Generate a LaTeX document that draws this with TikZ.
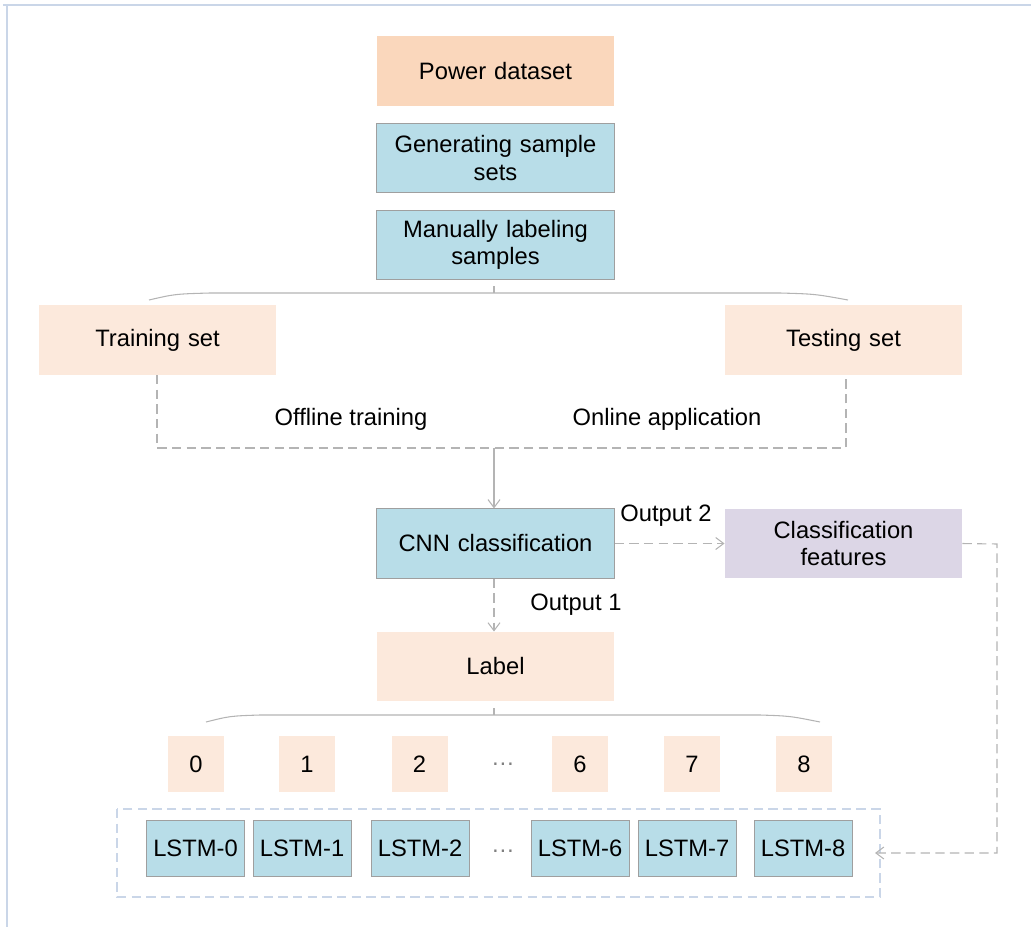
\documentclass[tikz,border=0pt]{standalone}
\usepackage{fontspec}
\setmainfont{Liberation Sans}
\usetikzlibrary{arrows.meta, positioning}

\definecolor{peachdark}{HTML}{FAD7BC}
\definecolor{peachlight}{HTML}{FCE9DC}
\definecolor{boxblue}{HTML}{B8DDE8}
\definecolor{lavender}{HTML}{DCD6E6}
\definecolor{linegray}{HTML}{B4B4B4}
\definecolor{framegray}{HTML}{CAD6E8}

\begin{document}
\begin{tikzpicture}[x=0.75pt, y=-0.75pt,
    font=\fontsize{17.8}{20.5}\selectfont,
    bigbox/.style={minimum width=178pt, minimum height=52pt, inner sep=0pt, align=center, text width=170pt},
    bluebox/.style={bigbox, fill=boxblue, draw=gray!75, line width=0.6pt},
    numbox/.style={fill=peachlight, minimum width=42pt, minimum height=42pt, inner sep=0pt},
    lstmbox/.style={fill=boxblue, draw=gray!75, line width=0.6pt, minimum width=73.5pt, minimum height=42pt, inner sep=0pt},
    conn/.style={linegray, line width=0.8pt},
    dashconn/.style={conn, dash pattern=on 7pt off 4pt},
    tip/.style={-{Straight Barb[length=6pt, width=9pt]}}]

    % Fix the size of the picture
    \useasboundingbox (0,0) rectangle (1031,927);
    \draw[framegray, line width=1pt] (3,5) -- (1031,5);
    \draw[framegray, line width=1pt] (7,5) -- (7,927);

    % Top column of boxes
    \node[bigbox, fill=peachdark] (power) at (495.5,71) {Power dataset};
    \node[bluebox] (generate) at (495.5,158) {Generating sample\\sets};
    \node[bluebox] (manual) at (495.5,245) {Manually labeling\\samples};

    % Split into training and testing
    \node[bigbox, fill=peachlight] (train) at (157.5,340) {Training set};
    \node[bigbox, fill=peachlight] (test) at (843.5,340) {Testing set};
    \draw[conn] (494,286) -- (494,293);
    \draw[conn] (149,300) .. controls (175,294) .. (210,293) -- (780,293) .. controls (815,294) .. (848,300);

    % Dashed loop and labels
    \coordinate (trainfoot) at (157,448);
    \coordinate (testfoot) at (846,448);
    \coordinate (merge) at (494,448);
    \draw[dashconn] (157,375) -- (trainfoot) -- (testfoot) -- (846,375);
    \node (offline) at (351,419) {Offline training};
    \node (online) at (667,419) {Online application};

    % CNN and its outputs
    \node[bluebox] (cnn) at (495.5,543.5) {CNN classification};
    \node[bigbox, fill=lavender] (features) at (843.5,543.5) {Classification\\features};
    \draw[conn, tip] (merge) -- (cnn.north -| merge);
    \draw[dashconn, tip] (cnn.east) -- (features.west);
    \node[anchor=south] (out2) at (666,531) {Output 2};
    \node[bigbox, fill=peachlight] (label) at (495.5,666.5) {Label};
    \draw[dashconn, tip] (cnn.south -| merge) -- (label.north -| merge);
    \node (out1) at (576,605) {Output 1};

    % Brace over the classes
    \draw[conn] (494,708) -- (494,715);
    \draw[conn] (206,722) .. controls (230,716) .. (260,715) -- (760,715) .. controls (790,716) .. (820,722);

    % Class boxes
    \node[numbox] (n0) at (196,764) {0};
    \node[numbox] (n1) at (307,764) {1};
    \node[numbox] (n2) at (419.5,764) {2};
    \node[text=gray] (ndots) at (503,764) {\dots};
    \node[numbox] (n6) at (580,764) {6};
    \node[numbox] (n7) at (692,764) {7};
    \node[numbox] (n8) at (804,764) {8};

    % LSTM models
    \draw[framegray, line width=1pt, dash pattern=on 7pt off 4pt] (117,809) rectangle (880,897);
    \node[lstmbox] (l0) at (195.5,848) {LSTM-0};
    \node[lstmbox] (l1) at (302,848) {LSTM-1};
    \node[lstmbox] (l2) at (420,848) {LSTM-2};
    \node[text=gray] (ldots) at (503,851) {\dots};
    \node[lstmbox] (l6) at (580,848) {LSTM-6};
    \node[lstmbox] (l7) at (687,848) {LSTM-7};
    \node[lstmbox] (l8) at (803,848) {LSTM-8};

    % Feedback of the features
    \coordinate (fbtop) at (997,544);
    \coordinate (fbbot) at (997,853);
    \coordinate (fbend) at (875,853);
    \draw[dashconn, tip] (features.east) -- (fbtop) -- (fbbot) -- (fbend);

\end{tikzpicture}
\end{document}
